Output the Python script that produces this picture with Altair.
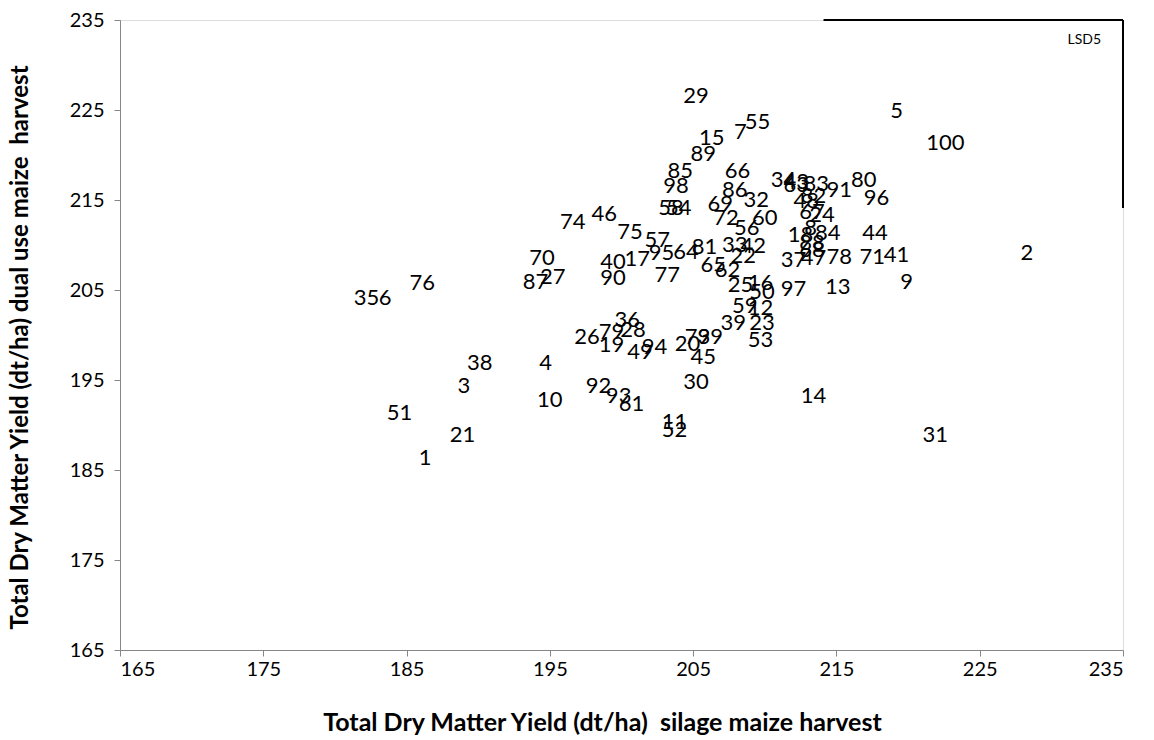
import altair as alt
import pandas as pd

# Genotype entries: number, dry matter yield (dt/ha) at silage harvest, at dual-use harvest
entry = list(range(1, 101))
silage = [
    186.3, 228.3, 189.0, 194.7, 219.2, 183.5, 208.3, 213.2, 219.9, 195.0,
    203.7, 209.7, 215.1, 213.4, 206.3, 209.7, 201.1, 212.5, 199.3, 204.6,
    188.9, 208.5, 209.8, 214.0, 208.3, 197.6, 195.2, 200.8, 205.2, 205.2,
    221.9, 209.4, 207.9, 211.3, 182.2, 200.4, 212.0, 190.1, 207.8, 199.4,
    219.2, 209.2, 212.2, 217.7, 205.7, 198.8, 213.4, 212.9, 201.3, 209.8,
    184.5, 203.7, 209.7, 204.0, 209.5, 208.75, 202.5, 203.45, 208.6, 210.0,
    200.7, 207.4, 212.2, 204.5, 206.4, 208.1, 213.3, 213.3, 206.9, 194.45,
    217.5, 207.3, 205.3, 196.6, 200.6, 186.1, 203.2, 215.2, 199.3, 216.9,
    205.8, 213.4, 213.6, 214.4, 204.1, 207.9, 194.0, 213.3, 205.7, 199.4,
    215.2, 198.4, 199.8, 202.3, 202.8, 217.8, 212.0, 203.8, 206.2, 222.6,
]
dual_use = [
    186.3, 209.1, 194.3, 196.9, 224.9, 204.1, 222.6, 211.9, 205.9, 192.8,
    190.3, 203.0, 205.3, 193.2, 221.9, 205.8, 208.4, 211.1, 198.9, 199.0,
    188.9, 208.8, 201.3, 213.3, 205.6, 199.8, 206.4, 200.6, 226.6, 194.8,
    188.9, 215.0, 210.0, 217.2, 204.1, 201.7, 208.3, 196.9, 201.3, 208.1,
    208.9, 209.9, 217.0, 211.3, 197.6, 213.4, 208.6, 214.9, 198.1, 204.8,
    191.3, 189.4, 199.4, 214.1, 223.7, 211.9, 210.6, 214.1, 203.2, 213.0,
    192.3, 207.2, 216.7, 209.2, 207.8, 218.2, 213.7, 209.4, 214.6, 208.6,
    208.7, 213.0, 199.8, 212.6, 211.4, 205.8, 206.7, 208.7, 200.3, 217.2,
    209.8, 215.4, 216.8, 211.3, 218.2, 216.1, 205.9, 210.2, 220.1, 206.3,
    216.1, 194.3, 193.2, 198.7, 209.1, 215.2, 205.1, 216.6, 199.8, 221.3,
]

# Least significant difference (5 %) drawn as a bracket from the top-right corner
lsd5 = 20.9
axis_min, axis_max = 165, 235
ticks = [165, 175, 185, 195, 205, 215, 225, 235]

df = pd.DataFrame({"entry": [str(e) for e in entry], "silage": silage, "dual": dual_use})

FONT = "Lato"

x_scale = alt.Scale(domain=[axis_min, axis_max], nice=False, zero=False)
y_scale = alt.Scale(domain=[axis_min, axis_max], nice=False, zero=False)

x_axis = alt.Axis(
    title="Total Dry Matter Yield (dt/ha)\u00a0 silage maize harvest",
    values=ticks, grid=False, domainColor="#868686", tickColor="#868686",
    tickSize=6, labelFontSize=20, labelFont=FONT, labelColor="black",
    labelPadding=3, titleFont=FONT, titleFontSize=25, titleFontWeight="bold",
    titleColor="black", titlePadding=31, titleX=482,
)
y_axis = alt.Axis(
    title="Total Dry Matter Yield (dt/ha) dual use maize\u00a0 harvest",
    values=ticks, grid=False, domainColor="#868686", tickColor="#868686",
    tickSize=6, labelFontSize=20, labelFont=FONT, labelColor="black",
    labelPadding=10, titleFont=FONT, titleFontSize=24, titleFontWeight="bold",
    titleColor="black", titlePadding=37, titleY=327,
)

labels = alt.Chart(df).mark_text(
    font=FONT, fontSize=22, color="black", align="center", baseline="middle"
).encode(
    x=alt.X("silage:Q", scale=x_scale, axis=x_axis),
    y=alt.Y("dual:Q", scale=y_scale, axis=y_axis),
    text="entry:N",
)

lsd_h = pd.DataFrame({"x": [axis_max - lsd5], "x2": [axis_max], "y": [axis_max]})
lsd_v = pd.DataFrame({"x": [axis_max], "y": [axis_max - lsd5], "y2": [axis_max]})

rule_h = alt.Chart(lsd_h).mark_rule(color="black", strokeWidth=2).encode(
    x=alt.X("x:Q", scale=x_scale), x2="x2:Q", y=alt.Y("y:Q", scale=y_scale)
)
rule_v = alt.Chart(lsd_v).mark_rule(color="black", strokeWidth=2).encode(
    x=alt.X("x:Q", scale=x_scale), y=alt.Y("y:Q", scale=y_scale), y2="y2:Q"
)
lsd_text = alt.Chart(pd.DataFrame({"x": [232.3], "y": [232.8], "t": ["LSD5"]})).mark_text(
    font=FONT, fontSize=14, color="black", align="center", baseline="middle"
).encode(
    x=alt.X("x:Q", scale=x_scale), y=alt.Y("y:Q", scale=y_scale), text="t:N"
)

chart = alt.layer(labels, rule_h, rule_v, lsd_text).properties(
    width=1003, height=630,
    autosize=alt.AutoSizeParams(type="none"),
    padding={"left": 120, "top": 20, "right": 31, "bottom": 90},
).configure_view(stroke=None).configure(background="white")

chart.save("out.html", embed_options={"renderer": "svg", "actions": False})
